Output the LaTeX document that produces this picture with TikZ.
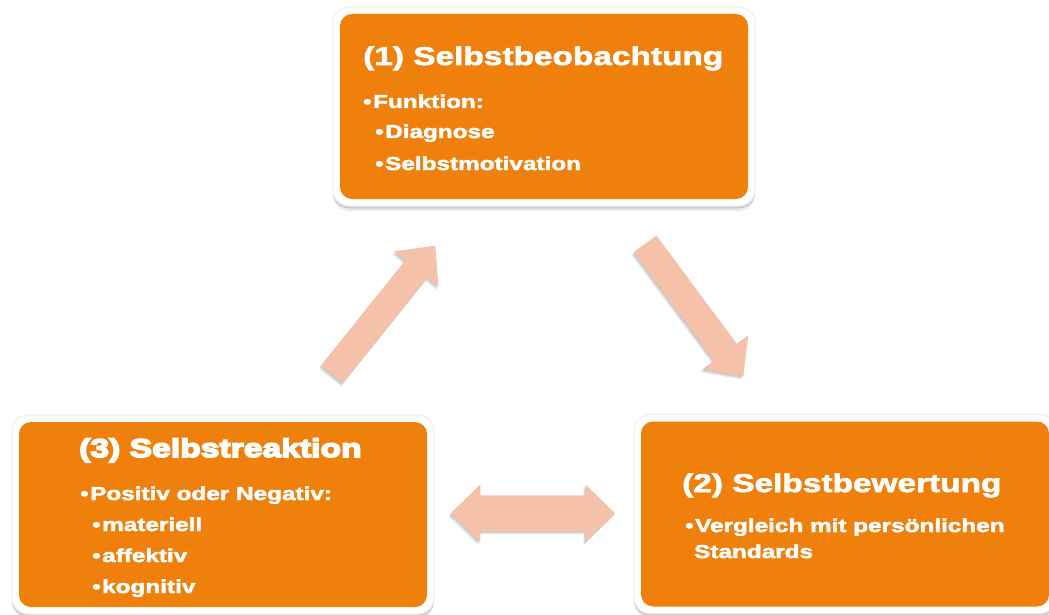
\documentclass[tikz,border=0pt]{standalone}
\usepackage{fontspec}
\setmainfont{Liberation Sans}
\newfontfamily\cardfont{Liberation Sans Bold}[FakeStretch=1.3,FakeBold=2.5]
\newfontfamily\heavyfont{Liberation Sans Bold}[FakeStretch=1.31,FakeBold=6]
\newcommand\cardbullet{•\kern1.5pt}
\definecolor{cardorange}{RGB}{238,128,11}
\definecolor{arrowpeach}{RGB}{245,193,169}
\tikzset{
  frame/.style={rounded corners=16pt, fill=white, draw=black!7, line width=1pt,
    minimum width=422pt, minimum height=199pt, inner sep=0pt,
    preaction={fill=black, opacity=.08, transform canvas={yshift=-5pt}},
    preaction={fill=black, opacity=.14, transform canvas={yshift=-2.5pt}}},
  card/.style={rounded corners=12pt, fill=cardorange, minimum width=408pt, minimum height=185pt, inner sep=0pt},
  title/.style={anchor=base west, inner sep=0pt, text=white, font=\cardfont\fontsize{25.7}{30}\selectfont},
  heavytitle/.style={anchor=base west, inner sep=0pt, text=white, font=\heavyfont\fontsize{25.7}{30}\selectfont},
  body/.style={anchor=base west, inner sep=0pt, text=white, font=\cardfont\fontsize{18.7}{22}\selectfont},
  arrowshade/.style={fill=black, opacity=.11},
  pics/singlearrow/.style={code={
    \fill[#1] (0,-14.1) -- (135,-14.1) -- (135,-28.4) -- (165,0) -- (135,28.4) -- (135,14.1) -- (0,14.1) -- cycle;}},
  pics/doublearrow/.style={code={
    \fill[#1] (-82.2,0) -- (-52.6,28.9) -- (-52.6,17.9) -- (52.6,17.9) -- (52.6,28.9) -- (82.2,0)
      -- (52.6,-28.9) -- (52.6,-17.9) -- (-52.6,-17.9) -- (-52.6,-28.9) -- cycle;}}
}
\begin{document}
\begin{tikzpicture}[x=1pt,y=1pt]
\useasboundingbox (0,0) rectangle (1049,-615);

% cards: white frame with soft shadow, orange face
\node[frame] (f1) at (544,-106.5) {};
\node[card]  (c1) at (f1.center) {};
\node[frame] (f3) at (223,-514.5) {};
\node[card]  (c3) at (f3.center) {};
\node[frame] (f2) at (845,-514) {};
\node[card]  (c2) at (f2.center) {};

% card texts
\node[title] (t1) at (363,-65) {(1) Selbstbeobachtung};
\node[body] (t1a) at (363,-108) {\cardbullet Funktion:};
\node[body] (t1b) at (375,-138) {\cardbullet Diagnose};
\node[body] (t1c) at (375,-170) {\cardbullet Selbstmotivation};

\node[title] (t2) at (682,-492) {(2) Selbstbewertung};
\node[body] (t2a) at (685,-532) {\cardbullet Vergleich mit persönlichen};
\node[body] (t2b) at (694,-558) {Standards};

\node[heavytitle] (t3) at (79,-457) {(3) Selbstreaktion};
\node[body] (t3a) at (80,-500) {\cardbullet Positiv oder Negativ:};
\node[body] (t3b) at (92,-531) {\cardbullet materiell};
\node[body] (t3c) at (92,-562) {\cardbullet affektiv};
\node[body] (t3d) at (92,-593) {\cardbullet kognitiv};

% cycle arrows: shadows first, then the peach faces
\begin{scope}[shift={(-2,-3)}]
  \pic[rotate=51.3]  (s31) at (332,-374.4) {singlearrow=arrowshade};
  \pic[rotate=-53.4] (s12) at (645,-243.8) {singlearrow=arrowshade};
  \pic (s23) at (532.9,-513.3) {doublearrow=arrowshade};
\end{scope}
\begin{scope}[shift={(-1,-1.5)}]
  \pic[rotate=51.3]  (h31) at (332,-374.4) {singlearrow=arrowshade};
  \pic[rotate=-53.4] (h12) at (645,-243.8) {singlearrow=arrowshade};
  \pic (h23) at (532.9,-513.3) {doublearrow=arrowshade};
\end{scope}
\pic[rotate=51.3]  (a31) at (332,-374.4) {singlearrow=arrowpeach};
\pic[rotate=-53.4] (a12) at (645,-243.8) {singlearrow=arrowpeach};
\pic (a23) at (532.9,-513.3) {doublearrow=arrowpeach};
\end{tikzpicture}
\end{document}
